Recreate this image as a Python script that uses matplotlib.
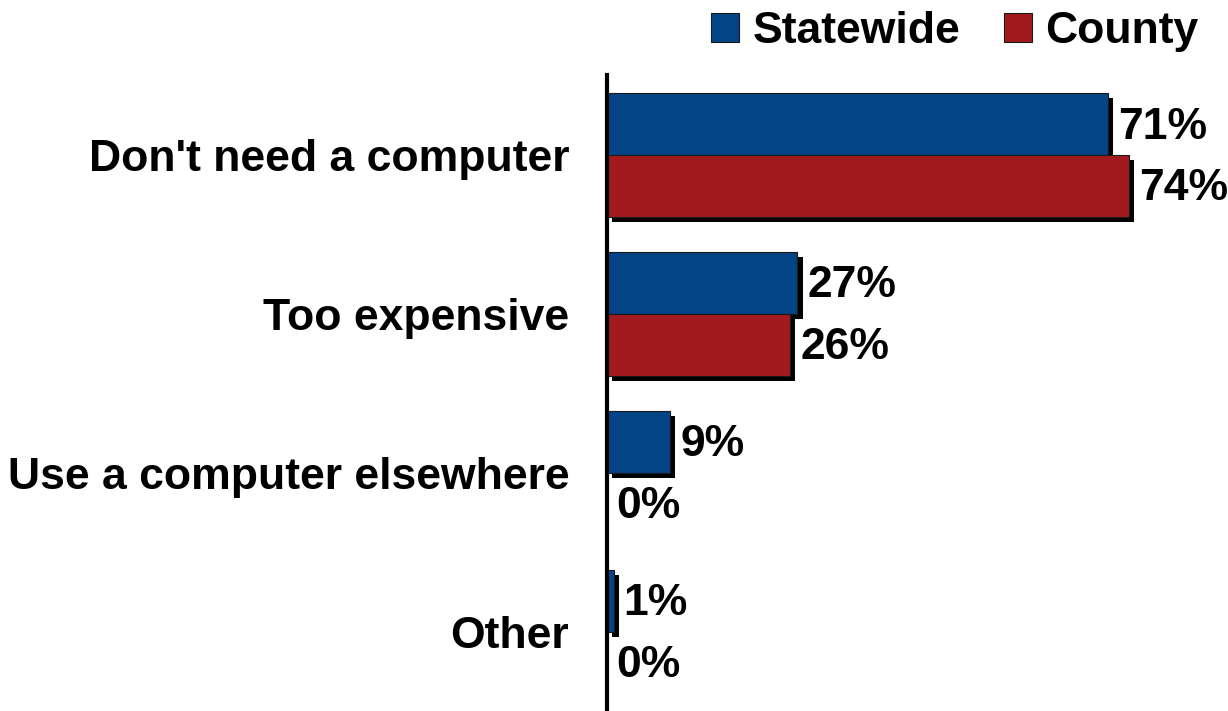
import matplotlib
matplotlib.use("Agg")
import matplotlib.pyplot as plt
import matplotlib.patheffects as pe
from matplotlib.patches import Patch
import numpy as np

categories = ["Don't need a computer", "Too expensive", "Use a computer elsewhere", "Other"]
statewide = [71, 27, 9, 1]
county = [74, 26, 0, 0]
series_names = ["Statewide", "County"]
colors = ["#034486", "#A21A1E"]

plt.rcParams['font.family'] = ['Liberation Sans', 'DejaVu Sans']

fig = plt.figure(figsize=(12.28, 7.11), dpi=100)
ax = fig.add_axes([0.494, 0.0, 0.506, 0.894])

y = np.arange(len(categories))
h = 0.39
shadow = [pe.SimplePatchShadow(offset=(3.8, -3.8), shadow_rgbFace='black', alpha=1.0), pe.Normal()]

b1 = ax.barh(y - h/2, statewide, height=h, color=colors[0], edgecolor='#1a1a1a', linewidth=0.8)
b2 = ax.barh(y + h/2, county, height=h, color=colors[1], edgecolor='#1a1a1a', linewidth=0.8)
for bars in (b1, b2):
    for r in bars:
        if r.get_width() > 0:
            r.set_path_effects(shadow)

fs = 32
for vals, off in ((statewide, -h/2), (county, h/2)):
    for i, v in enumerate(vals):
        ax.text(v + 1.4, i + off + 0.02, f"{v}%", va='center', ha='left', fontsize=fs, fontweight='bold')

ax.set_xlim(0, 88)
ax.set_ylim(3.5, -0.5)
ax.set_yticks(y)
ax.set_yticklabels(categories, fontsize=fs, fontweight='bold')
ax.tick_params(axis='y', length=0, pad=27)
ax.set_xticks([])
for s in ['top', 'right', 'bottom']:
    ax.spines[s].set_visible(False)
ax.spines['left'].set_linewidth(3)

handles = [Patch(facecolor=c, edgecolor='#1a1a1a', linewidth=0.8, label=n) for c, n in zip(colors, series_names)]
fig.legend(handles=handles, loc='center right', bbox_to_anchor=(0.976, 0.956), ncol=2,
           frameon=False, prop={'size': fs, 'weight': 'bold'}, handlelength=0.62,
           handleheight=0.62, handletextpad=0.3, columnspacing=1.0,
           borderpad=0, borderaxespad=0)

fig.savefig("out.png", dpi=100)
